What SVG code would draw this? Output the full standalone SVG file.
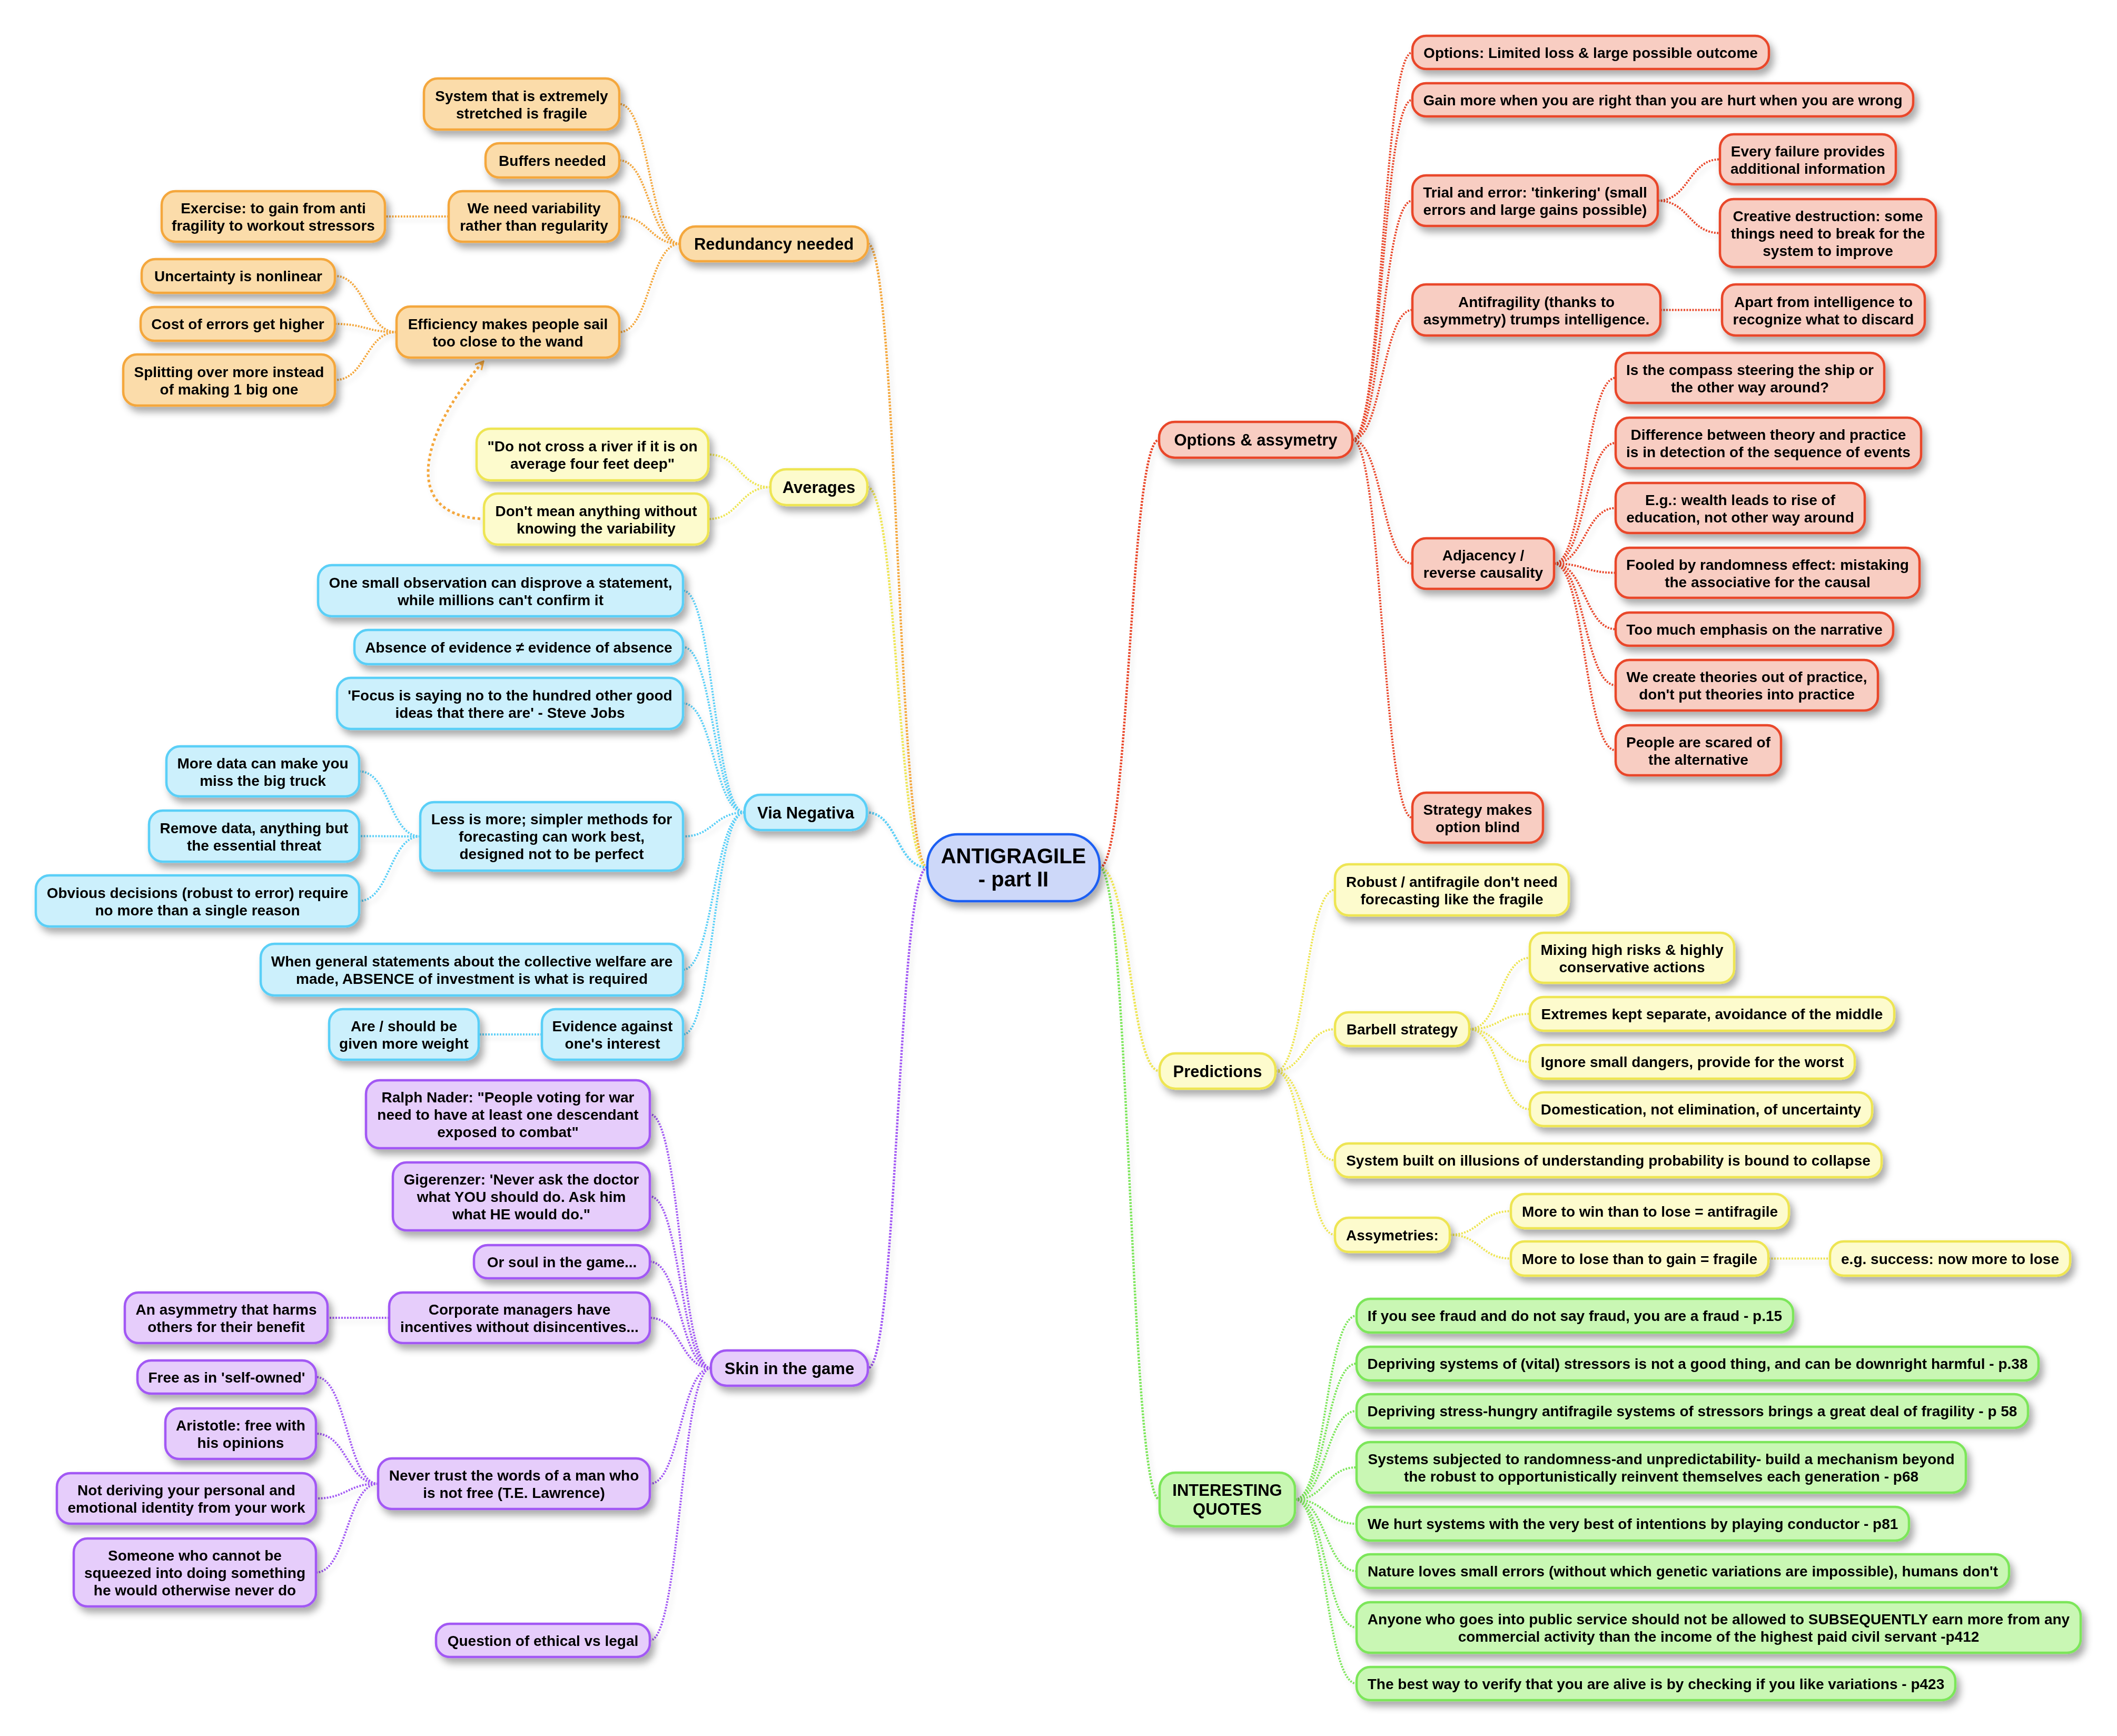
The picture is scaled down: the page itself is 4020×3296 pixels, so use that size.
<svg xmlns="http://www.w3.org/2000/svg" width="4020" height="3296" viewBox="0 0 4020 3296">
<defs>
<style>
.t{font-family:"Liberation Sans",Arial,sans-serif;font-weight:bold;font-size:28px;fill:#000;text-anchor:middle}
.tm{font-size:31px}
.tc{font-size:40px}
rect{stroke-width:4.5}
.o{fill:#fbdcaa;stroke:#f4a73c}
.y{fill:#fdfbcd;stroke:#eee553}
.b{fill:#ccf0fc;stroke:#5acff7}
.p{fill:#e6cdfb;stroke:#a259f4}
.r{fill:#f8cdc2;stroke:#e9472b}
.g{fill:#c9f7b4;stroke:#7ce65a}
.ctr{fill:#cdd8f9;stroke:#1f5ff2;stroke-width:4.5}
.c{fill:none;stroke-width:4;stroke-dasharray:3 2.5}
.cm{stroke-width:4.5;stroke-dasharray:3.5 2.5}
.co{stroke:#f4a73c}.cy{stroke:#eee553}.cb{stroke:#5acff7}.cp{stroke:#a259f4}.cr{stroke:#e9472b}.cg{stroke:#7ce65a}
</style>
<filter id="nsh" filterUnits="userSpaceOnUse" x="0" y="0" width="4020" height="3296">
<feDropShadow dx="7" dy="10" stdDeviation="7" flood-color="#000" flood-opacity="0.33"/>
</filter>
<filter id="csh" filterUnits="userSpaceOnUse" x="0" y="0" width="4020" height="3296">
<feDropShadow dx="5" dy="7" stdDeviation="5" flood-color="#000" flood-opacity="0.12"/>
</filter>
<marker id="arr" viewBox="0 0 10 10" refX="9" refY="5" markerWidth="4" markerHeight="4" orient="auto" markerUnits="strokeWidth">
<path d="M1.5 1 L9 5 L1.5 9" fill="none" stroke="#f4a73c" stroke-width="1.6"/>
</marker>
</defs>
<rect x="0" y="0" width="4020" height="3296" fill="#ffffff" stroke="none"/>

<g id="connectors" filter="url(#csh)">
<!-- main branches -->
<path class="c cm cr" d="M2088 1647 C2144.5 1647 2144.5 835 2201 835"/>
<path class="c cm cy" d="M2088 1647 C2145 1647 2145 2033.5 2202 2033.5"/>
<path class="c cm cg" d="M2088 1647 C2145 1647 2145 2847 2202 2847"/>
<path class="c cm co" d="M1761 1647 C1704.5 1647 1704.5 463 1648 463"/>
<path class="c cm cy" d="M1761 1647 C1704 1647 1704 925 1647 925"/>
<path class="c cm cb" d="M1761 1647 C1703.5 1647 1703.5 1542.5 1646 1542.5"/>
<path class="c cm cp" d="M1761 1647 C1704.5 1647 1704.5 2597.5 1648 2597.5"/>
<!-- options -->
<path class="c cr" d="M2568 835 C2625 835 2625 99.5 2682 99.5"/>
<path class="c cr" d="M2568 835 C2625 835 2625 189.5 2682 189.5"/>
<path class="c cr" d="M2568 835 C2625 835 2625 381 2682 381"/>
<path class="c cr" d="M2568 835 C2625 835 2625 588.5 2682 588.5"/>
<path class="c cr" d="M2568 835 C2625 835 2625 1070 2682 1070"/>
<path class="c cr" d="M2568 835 C2625 835 2625 1552.5 2682 1552.5"/>
<path class="c cr" d="M3148 381 C3207 381 3207 302.5 3266 302.5"/>
<path class="c cr" d="M3148 381 C3207 381 3207 442.5 3266 442.5"/>
<path class="c cr" d="M3153 588.5 L3270 588.5"/>
<path class="c cr" d="M2951 1070 C3009.5 1070 3009.5 717.5 3068 717.5"/>
<path class="c cr" d="M2951 1070 C3009.5 1070 3009.5 841 3068 841"/>
<path class="c cr" d="M2951 1070 C3009.5 1070 3009.5 964.5 3068 964.5"/>
<path class="c cr" d="M2951 1070 C3009.5 1070 3009.5 1087.5 3068 1087.5"/>
<path class="c cr" d="M2951 1070 C3009.5 1070 3009.5 1194.5 3068 1194.5"/>
<path class="c cr" d="M2951 1070 C3009.5 1070 3009.5 1301 3068 1301"/>
<path class="c cr" d="M2951 1070 C3009.5 1070 3009.5 1424.5 3068 1424.5"/>
<!-- predictions -->
<path class="c cy" d="M2422 2033.5 C2478.5 2033.5 2478.5 1689.5 2535 1689.5"/>
<path class="c cy" d="M2422 2033.5 C2478.5 2033.5 2478.5 1954 2535 1954"/>
<path class="c cy" d="M2422 2033.5 C2478.5 2033.5 2478.5 2203 2535 2203"/>
<path class="c cy" d="M2422 2033.5 C2478.5 2033.5 2478.5 2344.5 2535 2344.5"/>
<path class="c cy" d="M2790 1954 C2847.5 1954 2847.5 1818.5 2905 1818.5"/>
<path class="c cy" d="M2790 1954 C2847.5 1954 2847.5 1925 2905 1925"/>
<path class="c cy" d="M2790 1954 C2847.5 1954 2847.5 2016 2905 2016"/>
<path class="c cy" d="M2790 1954 C2847.5 1954 2847.5 2106 2905 2106"/>
<path class="c cy" d="M2753 2344.5 C2811 2344.5 2811 2299.5 2869 2299.5"/>
<path class="c cy" d="M2753 2344.5 C2811 2344.5 2811 2389.5 2869 2389.5"/>
<path class="c cy" d="M3358 2389.5 L3475 2389.5"/>
<!-- quotes -->
<path class="c cg" d="M2459 2847 C2517.5 2847 2517.5 2498 2576 2498"/>
<path class="c cg" d="M2459 2847 C2517.5 2847 2517.5 2589 2576 2589"/>
<path class="c cg" d="M2459 2847 C2517.5 2847 2517.5 2679 2576 2679"/>
<path class="c cg" d="M2459 2847 C2517.5 2847 2517.5 2786 2576 2786"/>
<path class="c cg" d="M2459 2847 C2517.5 2847 2517.5 2893 2576 2893"/>
<path class="c cg" d="M2459 2847 C2517.5 2847 2517.5 2983 2576 2983"/>
<path class="c cg" d="M2459 2847 C2517.5 2847 2517.5 3090 2576 3090"/>
<path class="c cg" d="M2459 2847 C2517.5 2847 2517.5 3196.5 2576 3196.5"/>
<!-- redundancy -->
<path class="c co" d="M1291 463 C1233.5 463 1233.5 197.5 1176 197.5"/>
<path class="c co" d="M1291 463 C1233.5 463 1233.5 304.5 1176 304.5"/>
<path class="c co" d="M1291 463 C1233.5 463 1233.5 411 1176 411"/>
<path class="c co" d="M1291 463 C1233.5 463 1233.5 630.5 1176 630.5"/>
<path class="c co" d="M852 411 L731 411"/>
<path class="c co" d="M753 630.5 C694.5 630.5 694.5 524 636 524"/>
<path class="c co" d="M753 630.5 C694.5 630.5 694.5 615 636 615"/>
<path class="c co" d="M753 630.5 C694.5 630.5 694.5 721.5 636 721.5"/>
<!-- averages -->
<path class="c cy" d="M1463 925 C1404 925 1404 863 1345 863"/>
<path class="c cy" d="M1463 925 C1404 925 1404 985.5 1345 985.5"/>
<path class="co" fill="none" stroke-width="5" stroke-dasharray="5 5" marker-end="url(#arr)" d="M912 985 C760 975 800 820 918 686"/>
<!-- via negativa -->
<path class="c cb" d="M1414 1542.5 C1355.5 1542.5 1355.5 1121.5 1297 1121.5"/>
<path class="c cb" d="M1414 1542.5 C1355.5 1542.5 1355.5 1228.5 1297 1228.5"/>
<path class="c cb" d="M1414 1542.5 C1355.5 1542.5 1355.5 1335.5 1297 1335.5"/>
<path class="c cb" d="M1414 1542.5 C1355.5 1542.5 1355.5 1588 1297 1588"/>
<path class="c cb" d="M1414 1542.5 C1355.5 1542.5 1355.5 1841 1297 1841"/>
<path class="c cb" d="M1414 1542.5 C1355.5 1542.5 1355.5 1964 1297 1964"/>
<path class="c cb" d="M798 1588 C740 1588 740 1464.5 682 1464.5"/>
<path class="c cb" d="M798 1588 C740 1588 740 1587.5 682 1587.5"/>
<path class="c cb" d="M798 1588 C740 1588 740 1710.5 682 1710.5"/>
<path class="c cb" d="M1029 1964 L909 1964"/>
<!-- skin in the game -->
<path class="c cp" d="M1350 2597.5 C1292 2597.5 1292 2115.5 1234 2115.5"/>
<path class="c cp" d="M1350 2597.5 C1292 2597.5 1292 2271.5 1234 2271.5"/>
<path class="c cp" d="M1350 2597.5 C1292 2597.5 1292 2395.5 1234 2395.5"/>
<path class="c cp" d="M1350 2597.5 C1292 2597.5 1292 2502 1234 2502"/>
<path class="c cp" d="M1350 2597.5 C1292 2597.5 1292 2817 1234 2817"/>
<path class="c cp" d="M1350 2597.5 C1292 2597.5 1292 3114.5 1234 3114.5"/>
<path class="c cp" d="M739 2502 L622 2502"/>
<path class="c cp" d="M718 2817 C659 2817 659 2614.5 600 2614.5"/>
<path class="c cp" d="M718 2817 C659 2817 659 2722 600 2722"/>
<path class="c cp" d="M718 2817 C659 2817 659 2845 600 2845"/>
<path class="c cp" d="M718 2817 C659 2817 659 2985.5 600 2985.5"/>
</g>

<g id="nodes" filter="url(#nsh)">
<g id="center"><rect class="ctr" x="1761" y="1584" width="327" height="127" rx="58"/><text class="t tc"><tspan x="1924.5" y="1639">ANTIGRAGILE</tspan><tspan x="1924.5" y="1683">- part II</tspan></text></g>

<g id="redundancy"><rect class="o" x="1291" y="430" width="357" height="66" rx="30"/><text class="t tm" x="1469.5" y="474">Redundancy needed</text></g>
<g id="stretched"><rect class="o" x="805" y="149" width="371" height="97" rx="26"/><text class="t"><tspan x="990.5" y="191.5">System that is extremely</tspan><tspan x="990.5" y="224.5">stretched is fragile</tspan></text></g>
<g id="buffers"><rect class="o" x="922" y="272" width="254" height="65" rx="26"/><text class="t" x="1049" y="314.5">Buffers needed</text></g>
<g id="variability"><rect class="o" x="852" y="363" width="324" height="96" rx="26"/><text class="t"><tspan x="1014" y="405">We need variability</tspan><tspan x="1014" y="438">rather than regularity</tspan></text></g>
<g id="exercise"><rect class="o" x="307" y="363" width="424" height="96" rx="26"/><text class="t"><tspan x="519" y="405">Exercise: to gain from anti</tspan><tspan x="519" y="438">fragility to workout stressors</tspan></text></g>
<g id="efficiency"><rect class="o" x="753" y="582" width="423" height="97" rx="26"/><text class="t"><tspan x="964.5" y="624.5">Efficiency makes people sail</tspan><tspan x="964.5" y="657.5">too close to the wand</tspan></text></g>
<g id="uncertainty"><rect class="o" x="269" y="492" width="367" height="64" rx="26"/><text class="t" x="452.5" y="534">Uncertainty is nonlinear</text></g>
<g id="cost"><rect class="o" x="267" y="583" width="369" height="64" rx="26"/><text class="t" x="451.5" y="625">Cost of errors get higher</text></g>
<g id="splitting"><rect class="o" x="234" y="673" width="402" height="97" rx="26"/><text class="t"><tspan x="435" y="715.5">Splitting over more instead</tspan><tspan x="435" y="748.5">of making 1 big one</tspan></text></g>

<g id="averages"><rect class="y" x="1463" y="891" width="184" height="68" rx="30"/><text class="t tm" x="1555" y="936">Averages</text></g>
<g id="river"><rect class="y" x="905" y="814" width="440" height="98" rx="26"/><text class="t"><tspan x="1125" y="857">"Do not cross a river if it is on</tspan><tspan x="1125" y="890">average four feet deep"</tspan></text></g>
<g id="meaning"><rect class="y" x="919" y="937" width="426" height="97" rx="26"/><text class="t"><tspan x="1132" y="979.5">Don't mean anything without</tspan><tspan x="1132" y="1012.5">knowing the variability</tspan></text></g>

<g id="via-negativa"><rect class="b" x="1414" y="1509" width="232" height="67" rx="30"/><text class="t tm" x="1530" y="1553.5">Via Negativa</text></g>
<g id="observation"><rect class="b" x="604" y="1073" width="693" height="97" rx="26"/><text class="t"><tspan x="950.5" y="1115.5">One small observation can disprove a statement,</tspan><tspan x="950.5" y="1148.5">while millions can't confirm it</tspan></text></g>
<g id="absence"><rect class="b" x="673" y="1196" width="624" height="65" rx="26"/><text class="t" x="985" y="1238.5">Absence of evidence ≠ evidence of absence</text></g>
<g id="focus"><rect class="b" x="640" y="1287" width="657" height="97" rx="26"/><text class="t"><tspan x="968.5" y="1329.5">'Focus is saying no to the hundred other good</tspan><tspan x="968.5" y="1362.5">ideas that there are' - Steve Jobs</tspan></text></g>
<g id="less-is-more"><rect class="b" x="798" y="1523" width="499" height="130" rx="26"/><text class="t"><tspan x="1047.5" y="1565">Less is more; simpler methods for</tspan><tspan x="1047.5" y="1598">forecasting can work best,</tspan><tspan x="1047.5" y="1631">designed not to be perfect</tspan></text></g>
<g id="more-data"><rect class="b" x="316" y="1417" width="366" height="95" rx="26"/><text class="t"><tspan x="499" y="1458.5">More data can make you</tspan><tspan x="499" y="1491.5">miss the big truck</tspan></text></g>
<g id="remove-data"><rect class="b" x="283" y="1539" width="399" height="97" rx="26"/><text class="t"><tspan x="482.5" y="1581.5">Remove data, anything but</tspan><tspan x="482.5" y="1614.5">the essential threat</tspan></text></g>
<g id="obvious"><rect class="b" x="68" y="1662" width="614" height="97" rx="26"/><text class="t"><tspan x="375" y="1704.5">Obvious decisions (robust to error) require</tspan><tspan x="375" y="1737.5">no more than a single reason</tspan></text></g>
<g id="welfare"><rect class="b" x="495" y="1792" width="802" height="98" rx="26"/><text class="t"><tspan x="896" y="1835">When general statements about the collective welfare are</tspan><tspan x="896" y="1868">made, ABSENCE of investment is what is required</tspan></text></g>
<g id="evidence-against"><rect class="b" x="1029" y="1916" width="268" height="96" rx="26"/><text class="t"><tspan x="1163" y="1958">Evidence against</tspan><tspan x="1163" y="1991">one's interest</tspan></text></g>
<g id="more-weight"><rect class="b" x="625" y="1916" width="284" height="96" rx="26"/><text class="t"><tspan x="767" y="1958">Are / should be</tspan><tspan x="767" y="1991">given more weight</tspan></text></g>

<g id="skin"><rect class="p" x="1350" y="2564" width="298" height="67" rx="30"/><text class="t tm" x="1499" y="2608.5">Skin in the game</text></g>
<g id="nader"><rect class="p" x="695" y="2051" width="539" height="129" rx="26"/><text class="t"><tspan x="964.5" y="2092.5">Ralph Nader: "People voting for war</tspan><tspan x="964.5" y="2125.5">need to have at least one descendant</tspan><tspan x="964.5" y="2158.5">exposed to combat"</tspan></text></g>
<g id="gigerenzer"><rect class="p" x="746" y="2207" width="488" height="129" rx="26"/><text class="t"><tspan x="990" y="2248.5">Gigerenzer: 'Never ask the doctor</tspan><tspan x="990" y="2281.5">what YOU should do. Ask him</tspan><tspan x="990" y="2314.5">what HE would do."</tspan></text></g>
<g id="soul"><rect class="p" x="900" y="2364" width="334" height="63" rx="26"/><text class="t" x="1067" y="2405.5">Or soul in the game...</text></g>
<g id="corporate"><rect class="p" x="739" y="2454" width="495" height="96" rx="26"/><text class="t"><tspan x="986.5" y="2496">Corporate managers have</tspan><tspan x="986.5" y="2529">incentives without disincentives...</tspan></text></g>
<g id="asymmetry-harms"><rect class="p" x="237" y="2454" width="385" height="96" rx="26"/><text class="t"><tspan x="429.5" y="2496">An asymmetry that harms</tspan><tspan x="429.5" y="2529">others for their benefit</tspan></text></g>
<g id="never-trust"><rect class="p" x="718" y="2769" width="516" height="96" rx="26"/><text class="t"><tspan x="976" y="2811">Never trust the words of a man who</tspan><tspan x="976" y="2844">is not free (T.E. Lawrence)</tspan></text></g>
<g id="self-owned"><rect class="p" x="261" y="2583" width="339" height="63" rx="26"/><text class="t" x="430.5" y="2624.5">Free as in 'self-owned'</text></g>
<g id="aristotle"><rect class="p" x="314" y="2674" width="286" height="96" rx="26"/><text class="t"><tspan x="457" y="2716">Aristotle: free with</tspan><tspan x="457" y="2749">his opinions</tspan></text></g>
<g id="identity"><rect class="p" x="108" y="2797" width="492" height="96" rx="26"/><text class="t"><tspan x="354" y="2839">Not deriving your personal and</tspan><tspan x="354" y="2872">emotional identity from your work</tspan></text></g>
<g id="squeezed"><rect class="p" x="140" y="2921" width="460" height="129" rx="26"/><text class="t"><tspan x="370" y="2962.5">Someone who cannot be</tspan><tspan x="370" y="2995.5">squeezed into doing something</tspan><tspan x="370" y="3028.5">he would otherwise never do</tspan></text></g>
<g id="ethical"><rect class="p" x="828" y="3083" width="406" height="63" rx="26"/><text class="t" x="1031" y="3124.5">Question of ethical vs legal</text></g>

<g id="options"><rect class="r" x="2201" y="801" width="367" height="68" rx="30"/><text class="t tm" x="2384.5" y="846">Options &amp; assymetry</text></g>
<g id="limited-loss"><rect class="r" x="2682" y="68" width="677" height="63" rx="26"/><text class="t" x="3020.5" y="109.5">Options: Limited loss &amp; large possible outcome</text></g>
<g id="gain-more"><rect class="r" x="2682" y="158" width="951" height="63" rx="26"/><text class="t" x="3157.5" y="199.5">Gain more when you are right than you are hurt when you are wrong</text></g>
<g id="trial"><rect class="r" x="2682" y="333" width="466" height="96" rx="26"/><text class="t"><tspan x="2915" y="375">Trial and error: 'tinkering' (small</tspan><tspan x="2915" y="408">errors and large gains possible)</tspan></text></g>
<g id="failure"><rect class="r" x="3266" y="255" width="334" height="95" rx="26"/><text class="t"><tspan x="3433" y="296.5">Every failure provides</tspan><tspan x="3433" y="329.5">additional information</tspan></text></g>
<g id="creative"><rect class="r" x="3266" y="378" width="410" height="129" rx="26"/><text class="t"><tspan x="3471" y="419.5">Creative destruction: some</tspan><tspan x="3471" y="452.5">things need to break for the</tspan><tspan x="3471" y="485.5">system to improve</tspan></text></g>
<g id="antifragility"><rect class="r" x="2682" y="540" width="471" height="97" rx="26"/><text class="t"><tspan x="2917.5" y="582.5">Antifragility (thanks to</tspan><tspan x="2917.5" y="615.5">asymmetry) trumps intelligence.</tspan></text></g>
<g id="discard"><rect class="r" x="3270" y="540" width="385" height="97" rx="26"/><text class="t"><tspan x="3462.5" y="582.5">Apart from intelligence to</tspan><tspan x="3462.5" y="615.5">recognize what to discard</tspan></text></g>
<g id="adjacency"><rect class="r" x="2682" y="1022" width="269" height="96" rx="26"/><text class="t"><tspan x="2816.5" y="1064">Adjacency /</tspan><tspan x="2816.5" y="1097">reverse causality</tspan></text></g>
<g id="compass"><rect class="r" x="3068" y="670" width="510" height="95" rx="26"/><text class="t"><tspan x="3323" y="711.5">Is the compass steering the ship or</tspan><tspan x="3323" y="744.5">the other way around?</tspan></text></g>
<g id="theory-practice"><rect class="r" x="3068" y="793" width="580" height="96" rx="26"/><text class="t"><tspan x="3358" y="835">Difference between theory and practice</tspan><tspan x="3358" y="868">is in detection of the sequence of events</tspan></text></g>
<g id="wealth"><rect class="r" x="3068" y="917" width="473" height="95" rx="26"/><text class="t"><tspan x="3304.5" y="958.5">E.g.: wealth leads to rise of</tspan><tspan x="3304.5" y="991.5">education, not other way around</tspan></text></g>
<g id="fooled"><rect class="r" x="3068" y="1040" width="577" height="95" rx="26"/><text class="t"><tspan x="3356.5" y="1081.5">Fooled by randomness effect: mistaking</tspan><tspan x="3356.5" y="1114.5">the associative for the causal</tspan></text></g>
<g id="narrative"><rect class="r" x="3068" y="1163" width="527" height="63" rx="26"/><text class="t" x="3331.5" y="1204.5">Too much emphasis on the narrative</text></g>
<g id="theories"><rect class="r" x="3068" y="1253" width="498" height="96" rx="26"/><text class="t"><tspan x="3317" y="1295">We create theories out of practice,</tspan><tspan x="3317" y="1328">don't put theories into practice</tspan></text></g>
<g id="scared"><rect class="r" x="3068" y="1377" width="314" height="95" rx="26"/><text class="t"><tspan x="3225" y="1418.5">People are scared of</tspan><tspan x="3225" y="1451.5">the alternative</tspan></text></g>
<g id="strategy"><rect class="r" x="2682" y="1505" width="248" height="95" rx="26"/><text class="t"><tspan x="2806" y="1546.5">Strategy makes</tspan><tspan x="2806" y="1579.5">option blind</tspan></text></g>

<g id="predictions"><rect class="y" x="2202" y="2000" width="220" height="67" rx="30"/><text class="t tm" x="2312" y="2044.5">Predictions</text></g>
<g id="robust"><rect class="y" x="2535" y="1641" width="444" height="97" rx="26"/><text class="t"><tspan x="2757" y="1683.5">Robust / antifragile don't need</tspan><tspan x="2757" y="1716.5">forecasting like the fragile</tspan></text></g>
<g id="barbell"><rect class="y" x="2535" y="1922" width="255" height="64" rx="26"/><text class="t" x="2662.5" y="1964">Barbell strategy</text></g>
<g id="mixing"><rect class="y" x="2905" y="1771" width="388" height="95" rx="26"/><text class="t"><tspan x="3099" y="1812.5">Mixing high risks &amp; highly</tspan><tspan x="3099" y="1845.5">conservative actions</tspan></text></g>
<g id="extremes"><rect class="y" x="2905" y="1893" width="692" height="64" rx="26"/><text class="t" x="3251" y="1935">Extremes kept separate, avoidance of the middle</text></g>
<g id="ignore"><rect class="y" x="2905" y="1984" width="617" height="64" rx="26"/><text class="t" x="3213.5" y="2026">Ignore small dangers, provide for the worst</text></g>
<g id="domestication"><rect class="y" x="2905" y="2074" width="650" height="64" rx="26"/><text class="t" x="3230" y="2116">Domestication, not elimination, of uncertainty</text></g>
<g id="illusions"><rect class="y" x="2535" y="2171" width="1038" height="64" rx="26"/><text class="t" x="3054" y="2213">System built on illusions of understanding probability is bound to collapse</text></g>
<g id="assymetries"><rect class="y" x="2535" y="2312" width="218" height="65" rx="26"/><text class="t" x="2644" y="2354.5">Assymetries:</text></g>
<g id="win"><rect class="y" x="2869" y="2267" width="528" height="65" rx="26"/><text class="t" x="3133" y="2309.5">More to win than to lose = antifragile</text></g>
<g id="lose"><rect class="y" x="2869" y="2357" width="489" height="65" rx="26"/><text class="t" x="3113.5" y="2399.5">More to lose than to gain = fragile</text></g>
<g id="success"><rect class="y" x="3475" y="2357" width="456" height="65" rx="26"/><text class="t" x="3703" y="2399.5">e.g. success: now more to lose</text></g>

<g id="quotes"><rect class="g" x="2202" y="2796" width="257" height="102" rx="30"/><text class="t tm"><tspan x="2330.5" y="2840">INTERESTING</tspan><tspan x="2330.5" y="2876">QUOTES</tspan></text></g>
<g id="q-fraud"><rect class="g" x="2576" y="2466" width="829" height="64" rx="26"/><text class="t" x="2990.5" y="2508">If you see fraud and do not say fraud, you are a fraud - p.15</text></g>
<g id="q-stressors"><rect class="g" x="2576" y="2557" width="1295" height="64" rx="26"/><text class="t" x="3223.5" y="2599">Depriving systems of (vital) stressors is not a good thing, and can be downright harmful - p.38</text></g>
<g id="q-stress-hungry"><rect class="g" x="2576" y="2647" width="1275" height="64" rx="26"/><text class="t" x="3213.5" y="2689">Depriving stress-hungry antifragile systems of stressors brings a great deal of fragility - p 58</text></g>
<g id="q-randomness"><rect class="g" x="2576" y="2738" width="1157" height="96" rx="26"/><text class="t"><tspan x="3154.5" y="2780">Systems subjected to randomness-and unpredictability- build a mechanism beyond</tspan><tspan x="3154.5" y="2813">the robust to opportunistically reinvent themselves each generation - p68</tspan></text></g>
<g id="q-conductor"><rect class="g" x="2576" y="2861" width="1049" height="64" rx="26"/><text class="t" x="3100.5" y="2903">We hurt systems with the very best of intentions by playing conductor - p81</text></g>
<g id="q-nature"><rect class="g" x="2576" y="2951" width="1239" height="64" rx="26"/><text class="t" x="3195.5" y="2993">Nature loves small errors (without which genetic variations are impossible), humans don't</text></g>
<g id="q-public"><rect class="g" x="2576" y="3042" width="1375" height="96" rx="26"/><text class="t"><tspan x="3263.5" y="3084">Anyone who goes into public service should not be allowed to SUBSEQUENTLY earn more from any</tspan><tspan x="3263.5" y="3117">commercial activity than the income of the highest paid civil servant -p412</tspan></text></g>
<g id="q-alive"><rect class="g" x="2576" y="3165" width="1137" height="63" rx="26"/><text class="t" x="3144.5" y="3206.5">The best way to verify that you are alive is by checking if you like variations - p423</text></g>
</g>
</svg>
